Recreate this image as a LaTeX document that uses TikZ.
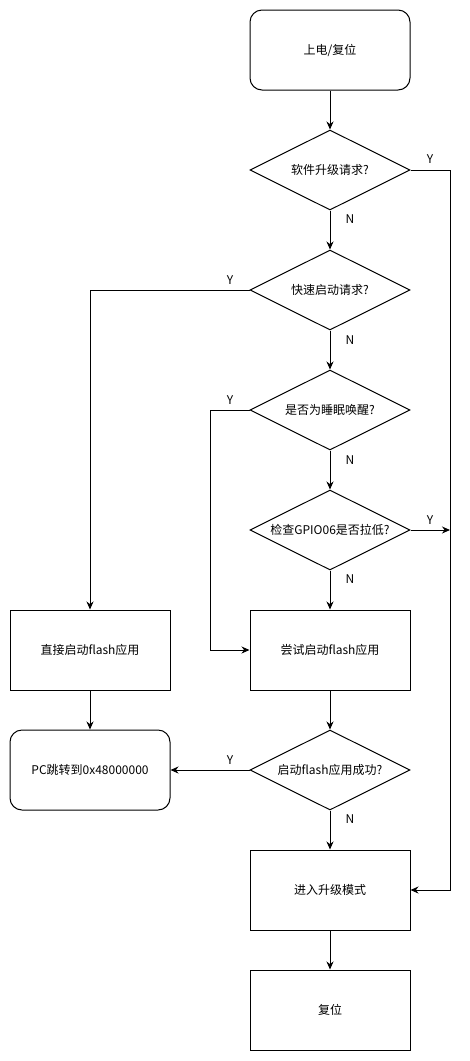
\documentclass[tikz,border=0pt]{standalone}
\usepackage{fontspec}
\setmainfont{Noto Sans CJK SC}
\usepackage{tikz}
\usetikzlibrary{positioning,shapes.geometric,arrows.meta}

\begin{document}
\begin{tikzpicture}[x=1pt, y=-1pt,
  box/.style={draw=black, line width=1pt, minimum width=160pt,
              minimum height=80pt, inner sep=0pt, font=\fontsize{12}{14}\selectfont},
  term/.style={box, rectangle, rounded corners=12pt},
  proc/.style={box, rectangle},
  ask/.style={box, diamond, aspect=2},
  yn/.style={font=\fontsize{12}{14}\selectfont},
  flow/.style={line width=1pt, -{Stealth[length=8pt,width=7pt]}}
]
\useasboundingbox (0,0) rectangle (469,1061);

% ---- colonne principale ------------------------------------------------
\node[term] (power)   at (330,50)   {上电/复位};
\node[ask]  (upgReq)  at (330,170)  {软件升级请求?};
\node[ask]  (fastReq) at (330,290)  {快速启动请求?};
\node[ask]  (wake)    at (330,410)  {是否为睡眠唤醒?};
\node[ask]  (gpio)    at (330,530)  {检查GPIO06是否拉低?};
\node[proc] (tryApp)  at (330,650)  {尝试启动flash应用};
\node[ask]  (appOk)   at (330,770)  {启动flash应用成功?};
\node[proc] (upgMode) at (330,890)  {进入升级模式};
\node[proc] (reset)   at (330,1010) {复位};

% ---- colonne gauche ----------------------------------------------------
\node[proc] (directApp) at (90,650) {直接启动flash应用};
\node[term] (jump)      at (90,770) {PC跳转到0x48000000};

\coordinate (bus)      at (450,170);
\coordinate (wakeTurn) at (210,410);

% ---- fleches N ---------------------------------------------------------
\draw[flow] (power) -- (upgReq);
\draw[flow] (upgReq) -- (fastReq);
\draw[flow] (fastReq) -- (wake);
\draw[flow] (wake) -- (gpio);
\draw[flow] (gpio) -- (tryApp);
\draw[flow] (tryApp) -- (appOk);
\draw[flow] (appOk) -- (upgMode);
\draw[flow] (upgMode) -- (reset);
\draw[flow] (directApp) -- (jump);

% ---- fleches Y ---------------------------------------------------------
\draw[flow] (upgReq.east) -- (bus) |- (upgMode.east);
\draw[flow] (gpio.east) -- (gpio.east -| bus);
\draw[flow] (fastReq.west) -| (directApp.north);
\draw[flow] (wake.west) -- (wakeTurn) |- (tryApp.west);
\draw[flow] (appOk.west) -- (jump.east);

% ---- etiquettes --------------------------------------------------------
\node[yn] (y1) at (430,159) {Y};
\node[yn] (n1) at (350,219) {N};
\node[yn] (y2) at (230,280) {Y};
\node[yn] (n2) at (350,340) {N};
\node[yn] (y3) at (230,400) {Y};
\node[yn] (n3) at (350,460) {N};
\node[yn] (y4) at (430,520) {Y};
\node[yn] (n4) at (350,579) {N};
\node[yn] (y5) at (230,760) {Y};
\node[yn] (n5) at (350,819) {N};
\end{tikzpicture}
\end{document}
